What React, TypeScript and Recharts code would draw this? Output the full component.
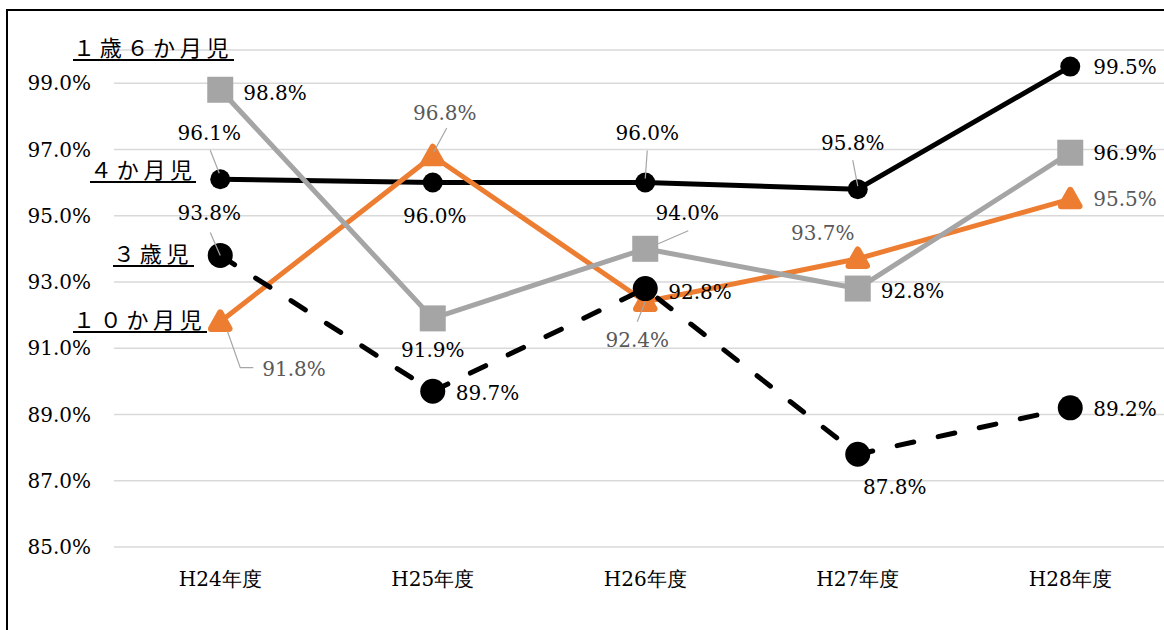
import React from 'react';
import { LineChart, Line, XAxis, YAxis, CartesianGrid, LabelList } from 'recharts';

const categories = ['H24年度', 'H25年度', 'H26年度', 'H27年度', 'H28年度'];
const months4 = [96.1, 96.0, 96.0, 95.8, 99.5];
const months10 = [91.8, 96.8, 92.4, 93.7, 95.5];
const years1m6 = [98.8, 91.9, 94.0, 92.8, 96.9];
const years3 = [93.8, 89.7, 92.8, 87.8, 89.2];
const yTicks = [85, 87, 89, 91, 93, 95, 97, 99];

const seriesNames = ['１歳６か月児', '４か月児', '３歳児', '１０か月児'];

const data = categories.map((c, i) => ({
  name: c,
  m4: months4[i],
  m10: months10[i],
  y16: years1m6[i],
  y3: years3[i],
}));

const FONT = 'DejaVu Serif';
const CJK = 'Noto Sans CJK JP';

type Cfg = { dx: number; dy: number; anchor: 'start' | 'middle' | 'end'; leader?: number[][] };

const cfg4: Cfg[] = [
  { dx: -11, dy: -46, anchor: 'middle', leader: [[-10, -29], [-1, -6]] },
  { dx: 2, dy: 33, anchor: 'middle' },
  { dx: 2, dy: -50, anchor: 'middle', leader: [[2, -32], [0, -4]] },
  { dx: -5, dy: -46, anchor: 'middle', leader: [[-5, -29], [0, -3]] },
  { dx: 23, dy: 0, anchor: 'start' },
];
const cfg16: Cfg[] = [
  { dx: 23, dy: 3, anchor: 'start' },
  { dx: 0, dy: 32, anchor: 'middle' },
  { dx: 42, dy: -36, anchor: 'middle', leader: [[43, -18], [13, -5]] },
  { dx: 23, dy: 2, anchor: 'start' },
  { dx: 23, dy: 0, anchor: 'start' },
];
const cfg10: Cfg[] = [
  { dx: 42, dy: 47, anchor: 'start', leader: [[7, 9], [20, 46], [33, 46]] },
  { dx: 12, dy: -43, anchor: 'middle', leader: [[14, -28], [1, -4]] },
  { dx: -8, dy: 38, anchor: 'middle', leader: [[-8, 20], [0, 0]] },
  { dx: -35, dy: -26, anchor: 'middle' },
  { dx: 23, dy: 0, anchor: 'start' },
];
const cfg3: Cfg[] = [
  { dx: -11, dy: -42, anchor: 'middle', leader: [[-10, -23], [0, 0]] },
  { dx: 23, dy: 2, anchor: 'start' },
  { dx: 23, dy: 3, anchor: 'start' },
  { dx: 37, dy: 33, anchor: 'middle' },
  { dx: 23, dy: 1, anchor: 'start' },
];

function makeLabel(cfg: Cfg[], color: string, key: string) {
  return (props: any) => {
    const { x, y, value, index } = props;
    const c = cfg[index];
    if (!c || x == null || y == null) return null;
    const px = Number(x);
    const py = Number(y);
    return (
      <g key={`${key}-${index}`}>
        {c.leader && (
          <polyline
            points={c.leader.map(([a, b]) => `${px + a},${py + b}`).join(' ')}
            fill="none"
            stroke="#A6A6A6"
            strokeWidth={1.2}
          />
        )}
        <text
          x={px + c.dx}
          y={py + c.dy}
          textAnchor={c.anchor}
          dominantBaseline="central"
          fontSize={20}
          fontFamily={FONT}
          fill={color}
        >
          {Number(value).toFixed(1)}%
        </text>
      </g>
    );
  };
}

const circleDot = (r: number, key: string) => (props: any) => {
  const { cx, cy, index } = props;
  if (cx == null || cy == null) return <g key={`${key}-${index}`} />;
  return <circle key={`${key}-${index}`} cx={cx} cy={cy} r={r} fill="#000" />;
};

const squareDot = (props: any) => {
  const { cx, cy, index } = props;
  if (cx == null || cy == null) return <g key={`sq-${index}`} />;
  return <rect key={`sq-${index}`} x={cx - 13} y={cy - 13} width={26} height={26} fill="#A5A5A5" />;
};

const triDot = (props: any) => {
  const { cx, cy, index } = props;
  if (cx == null || cy == null) return <g key={`tri-${index}`} />;
  const d = `M${cx},${cy - 9} L${cx + 9},${cy + 7} L${cx - 9},${cy + 7} Z`;
  return (
    <path
      key={`tri-${index}`}
      d={d}
      fill="#ED7D31"
      stroke="#ED7D31"
      strokeWidth={6.5}
      strokeLinejoin="round"
    />
  );
};

const annotations = [
  { text: seriesNames[0], left: 73, top: 35, width: 161 },
  { text: seriesNames[1], left: 90, top: 157, width: 106 },
  { text: seriesNames[2], left: 113, top: 241, width: 81 },
  { text: seriesNames[3], left: 73, top: 307, width: 134 },
];

export default function App() {
  return (
    <div
      style={{
        position: 'absolute',
        left: 0,
        top: 0,
        width: 1164,
        height: 630,
        overflow: 'hidden',
        background: '#fff',
        fontFamily: FONT,
      }}
    >
      <div
        style={{
          position: 'absolute',
          left: 6,
          top: 9,
          width: 1200,
          height: 660,
          border: '2px solid #000',
          background: '#fff',
        }}
      >
        <LineChart
          width={1180}
          height={640}
          data={data}
          margin={{ top: 39, right: 11.5, left: 0, bottom: 44 }}
        >
          <CartesianGrid vertical={false} stroke="#D9D9D9" strokeWidth={1.5} />
          <XAxis
            dataKey="name"
            axisLine={false}
            tickLine={false}
            tickSize={0}
            tickMargin={25}
            height={60}
            interval={0}
            padding={{ left: 106.25, right: 106.25 }}
            tick={{ fill: '#000', fontSize: 20, fontFamily: FONT }}
          />
          <YAxis
            type="number"
            domain={[85, 100]}
            ticks={yTicks}
            width={106}
            axisLine={false}
            tickLine={false}
            tickSize={0}
            tickMargin={23}
            tickFormatter={(v: number) => `${v.toFixed(1)}%`}
            tick={{ fill: '#000', fontSize: 20, fontFamily: FONT }}
          />
          <Line
            type="linear"
            dataKey="m4"
            stroke="#000"
            strokeWidth={5}
            strokeLinejoin="round"
            dot={circleDot(10, 'm4')}
            activeDot={false}
            isAnimationActive={false}
          >
            <LabelList dataKey="m4" content={makeLabel(cfg4, '#000', 'l4')} />
          </Line>
          <Line
            type="linear"
            dataKey="m10"
            stroke="#ED7D31"
            strokeWidth={5}
            strokeLinejoin="round"
            dot={triDot}
            activeDot={false}
            isAnimationActive={false}
          >
            <LabelList dataKey="m10" content={makeLabel(cfg10, '#595959', 'l10')} />
          </Line>
          <Line
            type="linear"
            dataKey="y16"
            stroke="#A5A5A5"
            strokeWidth={5}
            strokeLinejoin="round"
            dot={squareDot}
            activeDot={false}
            isAnimationActive={false}
          >
            <LabelList dataKey="y16" content={makeLabel(cfg16, '#000', 'l16')} />
          </Line>
          <Line
            type="linear"
            dataKey="y3"
            stroke="#000"
            strokeWidth={5}
            strokeDasharray="17 25"
            strokeLinecap="round"
            dot={circleDot(12.5, 'y3')}
            activeDot={false}
            isAnimationActive={false}
          >
            <LabelList dataKey="y3" content={makeLabel(cfg3, '#000', 'l3')} />
          </Line>
        </LineChart>
      </div>
      {annotations.map((a) => (
        <div
          key={a.text}
          style={{
            position: 'absolute',
            left: a.left,
            top: a.top,
            width: a.width,
            fontFamily: CJK,
            fontSize: 22,
            lineHeight: '22px',
            letterSpacing: '4.7px',
            whiteSpace: 'nowrap',
            paddingBottom: 2,
            borderBottom: '2px solid #000',
            color: '#000',
          }}
        >
          {a.text}
        </div>
      ))}
    </div>
  );
}
